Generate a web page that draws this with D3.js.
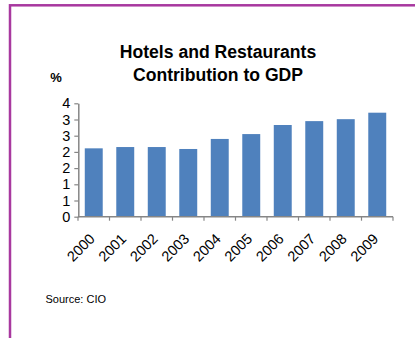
<!DOCTYPE html>
<html>
<head>
<meta charset="utf-8">
<title>Hotels and Restaurants Contribution to GDP</title>
<style>
  body { margin: 0; background: #fff; }
  svg text { font-family: "Liberation Sans", Arial, sans-serif; fill: #000; }
</style>
</head>
<body>
<div id="chart"></div>
<script src="https://d3js.org/d3.v7.min.js"></script>
<script>
// data
const years = ["2000","2001","2002","2003","2004","2005","2006","2007","2008","2009"]
const values = [2.11, 2.15, 2.15, 2.09, 2.40, 2.55, 2.83, 2.95, 3.01, 3.21]
const yTicks = [0, 0.5, 1, 1.5, 2, 2.5, 3, 3.5]
const titleLines = ["Hotels and Restaurants", "Contribution to GDP"]

const W = 415, H = 338
const svg = d3.select("#chart").append("svg")
    .attr("width", W).attr("height", H)

// purple frame (cut off at right and bottom)
svg.append("rect")
    .attr("x", 10).attr("y", 5.3)
    .attr("width", W + 20).attr("height", H + 20)
    .attr("fill", "none")
    .attr("stroke", "#a8389f")
    .attr("stroke-width", 2.5)

const x = d3.scaleBand()
    .domain(years)
    .range([78, 393])
    .paddingInner(0.43)
    .paddingOuter(0.215)

const y = d3.scaleLinear()
    .domain([0, 3.5])
    .range([216.7, 103.3])

// title
svg.append("text")
    .attr("x", 218).attr("y", 57.5)
    .attr("text-anchor", "middle")
    .style("font-size", "17.6px").style("font-weight", "bold")
    .selectAll("tspan")
    .data(titleLines)
    .join("tspan")
      .attr("x", 218)
      .attr("dy", (d, i) => i ? 23.2 : 0)
      .text(d => d)

svg.append("text")
    .attr("x", 56).attr("y", 82)
    .attr("text-anchor", "middle")
    .style("font-size", "13px").style("font-weight", "bold")
    .text("%")

// bars
svg.append("g")
  .selectAll("rect")
  .data(values)
  .join("rect")
    .attr("x", (d, i) => x(years[i]))
    .attr("y", d => y(d))
    .attr("width", x.bandwidth())
    .attr("height", d => y(0) - y(d))
    .attr("fill", "#4f81bd")

// y axis
const fmt = v => String(Math.round(v + 1e-9))
const yAxis = svg.append("g")
    .attr("transform", "translate(78.3,0)")
    .call(d3.axisLeft(y).tickValues(yTicks).tickFormat(fmt).tickSize(4).tickSizeOuter(0).tickPadding(4))
yAxis.select(".domain").attr("stroke", "#868686").attr("stroke-width", 1.5)
yAxis.selectAll(".tick line").attr("stroke", "#868686").attr("stroke-width", 1.2)
yAxis.selectAll(".tick text").style("font-size", "14.5px").attr("font-family", null)

// x axis with ticks between categories
const xAxis = svg.append("g")
    .attr("transform", `translate(0,${y(0)})`)
xAxis.append("line")
    .attr("x1", x.range()[0]).attr("x2", x.range()[1])
    .attr("stroke", "#868686").attr("stroke-width", 1.5)
const n = years.length
const tickX = i => x.range()[0] + i * (x.range()[1] - x.range()[0]) / n
xAxis.selectAll(".xt")
  .data(d3.range(n + 1))
  .join("line")
    .attr("class", "xt")
    .attr("x1", tickX)
    .attr("x2", tickX)
    .attr("y1", 0).attr("y2", 4)
    .attr("stroke", "#868686").attr("stroke-width", 1.2)
xAxis.selectAll(".xl")
  .data(years)
  .join("text")
    .attr("class", "xl")
    .attr("transform", d => `translate(${x(d) + x.bandwidth() / 2 + 2},${23}) rotate(-45)`)
    .attr("text-anchor", "end")
    .style("font-size", "14.5px")
    .text(d => d)

svg.append("text")
    .attr("x", 45.5).attr("y", 303)
    .style("font-size", "11px")
    .text("Source: CIO")
</script>
</body>
</html>
